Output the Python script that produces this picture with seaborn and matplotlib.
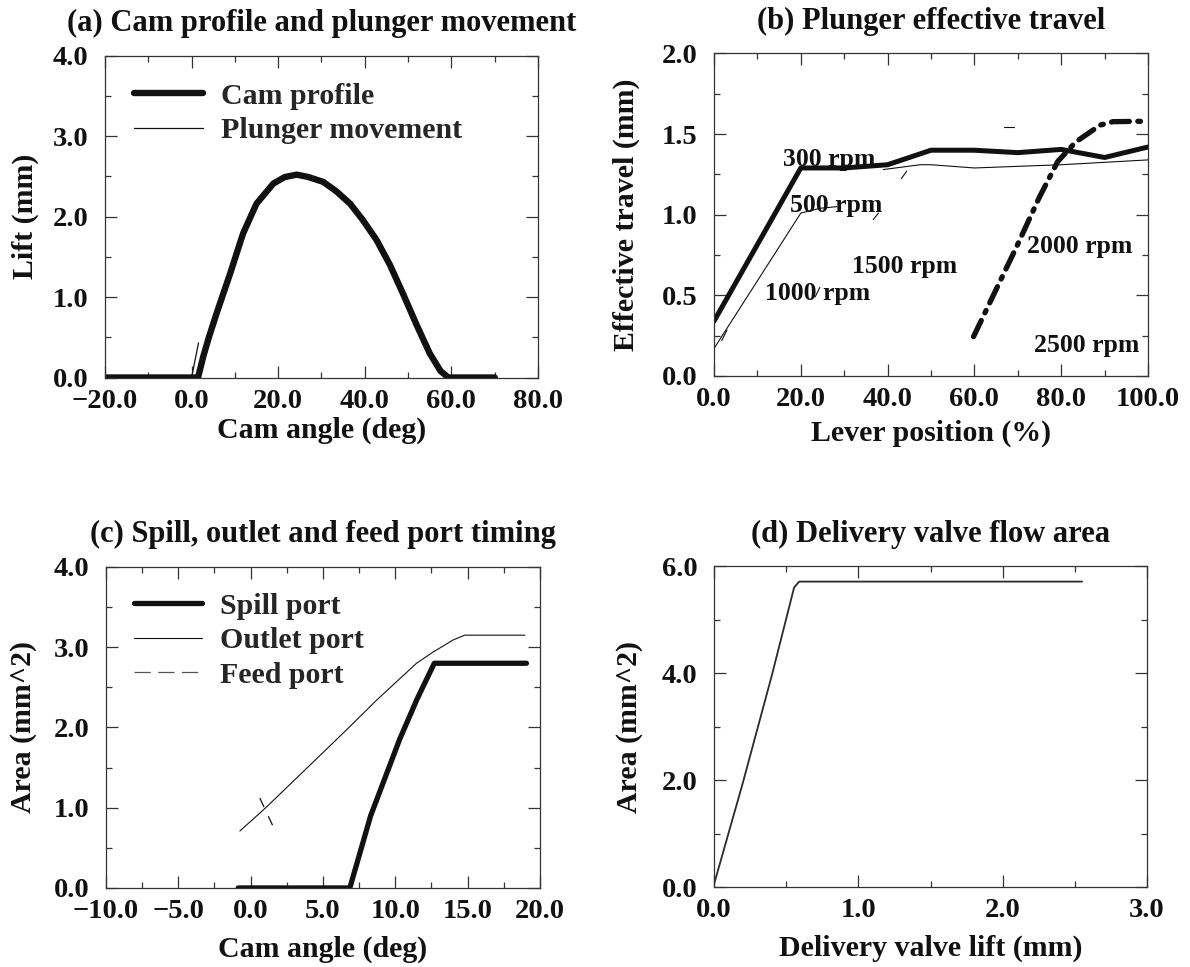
import numpy as np
import pandas as pd
import matplotlib
matplotlib.use("Agg")
import matplotlib.pyplot as plt
from matplotlib.lines import Line2D
from matplotlib.ticker import MultipleLocator, FuncFormatter
import seaborn as sns

# ---------------- data ----------------
# (a) Cam profile and plunger movement
cam_angle = [-20, 1.5, 2.7, 4.0, 5.8, 8.9, 11.9, 15.0, 18.9, 21.5, 24.3, 27.0,
             30.4, 33.5, 36.6, 39.5, 42.7, 45.8, 49.0, 52.0, 55.0, 57.5, 59.3, 70.0]
cam_lift = [0.0, 0.0, 0.26, 0.50, 0.80, 1.29, 1.79, 2.16, 2.41, 2.49, 2.52, 2.49,
            2.43, 2.31, 2.16, 1.96, 1.71, 1.40, 1.02, 0.65, 0.30, 0.08, 0.0, 0.0]
plunger_angle_1 = [-20, 0.0, 1.6]
plunger_lift_1 = [0.0, 0.0, 0.43]
plunger_angle_2 = [4.0, 5.8, 8.9, 11.9, 15.0, 18.9, 21.5, 24.3, 27.0, 30.4, 33.5,
                   36.6, 39.5, 42.7, 45.8, 49.0, 52.0, 55.0, 57.5, 59.3, 70.0]
plunger_lift_2 = [0.50, 0.80, 1.29, 1.79, 2.16, 2.41, 2.49, 2.52, 2.49, 2.43, 2.31,
                  2.16, 1.96, 1.71, 1.40, 1.02, 0.65, 0.30, 0.08, 0.0, 0.0]

# (b) Plunger effective travel
lever_300 = [0, 20, 30, 40, 50, 60, 70, 80, 90, 100]
travel_300 = [0.34, 1.29, 1.29, 1.31, 1.40, 1.40, 1.385, 1.405, 1.355, 1.42]
lever_500 = [0, 20, 24.4, 28.3]
travel_500 = [0.17, 1.01, 1.04, 1.05]
lever_1000 = [39, 47.5, 50, 60, 70, 80, 100]
travel_1000 = [1.28, 1.31, 1.31, 1.29, 1.30, 1.31, 1.34]
lever_2000 = [59.8, 69.7, 75.0, 79.2, 83.3, 89.0, 91.9, 100]
travel_2000 = [0.244, 0.80, 1.11, 1.33, 1.45, 1.556, 1.577, 1.58]
frag_lever = [[1.8, 3.0], [23.3, 24.4], [36.7, 37.9], [43.2, 44.4], [66.8, 69.2]]
frag_travel = [[0.22, 0.285], [0.49, 0.55], [0.97, 1.01], [1.225, 1.27], [1.545, 1.545]]
rpm_labels = ["300 rpm", "500 rpm", "1000 rpm", "1500 rpm", "2000 rpm", "2500 rpm"]
rpm_label_x = [15.8, 17.4, 11.7, 31.8, 72.1, 73.7]
rpm_label_y = [1.34, 1.06, 0.51, 0.68, 0.80, 0.19]

# (c) Spill, outlet and feed port timing
spill_angle = [-0.86, 6.86, 8.3, 10.3, 11.5, 12.7, 19.07]
spill_area = [0.0, 0.0, 0.9, 1.85, 2.35, 2.80, 2.80]
outlet_angle = [-0.74, 0.99, 3.87, 6.63, 8.71, 11.47, 12.62, 14.0, 14.8, 18.96]
outlet_area = [0.71, 0.99, 1.49, 1.97, 2.34, 2.80, 2.94, 3.09, 3.15, 3.15]
feed_angle = [0.64, 1.68]
feed_area = [1.12, 0.72]

# (d) Delivery valve flow area
valve_lift = [0.0, 0.2, 0.4, 0.555, 0.59, 2.55]
valve_area = [0.05, 1.95, 3.95, 5.60, 5.71, 5.71]

# ---------------- style ----------------
sns.set_theme(style="ticks")
plt.rcParams["font.family"] = ["Liberation Serif", "DejaVu Serif"]
plt.rcParams["font.weight"] = "bold"
plt.rcParams["axes.labelweight"] = "bold"
plt.rcParams["axes.titleweight"] = "bold"

INK = "#111111"
SPINE = "#333333"
TICK_FS = 20.5
LABEL_FS = 21.5
TITLE_FS = 22

fig = plt.figure(figsize=(11.9, 9.67), dpi=100)
pos = {
    "a": [0.0882, 0.6096, 0.3639, 0.333],
    "b": [0.600, 0.6112, 0.3647, 0.3335],
    "c": [0.089, 0.0817, 0.3647, 0.332],
    "d": [0.600, 0.0827, 0.3639, 0.3319],
}
axes = {k: fig.add_axes(v) for k, v in pos.items()}

fmt = FuncFormatter(lambda v, p: f"{v:.1f}".replace("-", "\u2212"))


def style_axes(ax, xlim, ylim, xmaj, xmin, ymaj, ymin, title, xlabel, ylabel,
               xlab_y, ylab_x):
    ax.set_xlim(*xlim)
    ax.set_ylim(*ylim)
    ax.xaxis.set_major_locator(MultipleLocator(xmaj))
    ax.xaxis.set_minor_locator(MultipleLocator(xmin))
    ax.yaxis.set_major_locator(MultipleLocator(ymaj))
    ax.yaxis.set_minor_locator(MultipleLocator(ymin))
    ax.xaxis.set_major_formatter(fmt)
    ax.yaxis.set_major_formatter(fmt)
    for s in ax.spines.values():
        s.set_visible(True)
        s.set_color(SPINE)
        s.set_linewidth(0.9)
    ax.tick_params(which="both", direction="in", top=True, right=True,
                   color=SPINE, width=0.9, labelsize=TICK_FS, labelcolor=INK)
    ax.tick_params(which="major", length=8.5)
    ax.tick_params(which="minor", length=4.5)
    ax.tick_params(axis="x", which="major", pad=8)
    ax.tick_params(axis="y", which="major", pad=12)
    for lab in ax.get_xticklabels() + ax.get_yticklabels():
        lab.set_fontweight("bold")
    ax.set_xlabel(xlabel, fontsize=LABEL_FS, fontweight="bold", color=INK)
    ax.set_ylabel(ylabel, fontsize=LABEL_FS, fontweight="bold", color=INK)
    ax.xaxis.label.set_verticalalignment("center")
    ax.yaxis.label.set_verticalalignment("center")
    ax.xaxis.set_label_coords(0.5, xlab_y)
    ax.yaxis.set_label_coords(ylab_x, 0.5)
    ax.set_title(title, fontsize=TITLE_FS, fontweight="bold", color=INK,
                 y=1.10, va="center", pad=0)
    ax.set_facecolor("white")


# ---------------- (a) ----------------
ax = axes["a"]
sns.lineplot(x=plunger_angle_1, y=plunger_lift_1, ax=ax, color=INK, lw=0.9,
             estimator=None, sort=False)
sns.lineplot(x=plunger_angle_2, y=plunger_lift_2, ax=ax, color=INK, lw=0.9,
             estimator=None, sort=False)
sns.lineplot(x=cam_angle, y=cam_lift, ax=ax, color=INK, lw=4.6,
             estimator=None, sort=False, solid_capstyle="round")
style_axes(ax, (-20, 80), (0, 4), 20, 10, 1, 0.5,
           "(a) Cam profile and plunger movement", "Cam angle (deg)",
           "Lift (mm)", -0.163, -0.185)
h_a = [Line2D([], [], color=INK, lw=4.6, solid_capstyle="round"),
       Line2D([], [], color=INK, lw=0.9)]
ax.legend(h_a, ["Cam profile", "Plunger movement"], loc="upper left",
          bbox_to_anchor=(0.067, 0.915), frameon=False,
          handlelength=2.3, handletextpad=0.6, labelspacing=0.25,
          borderpad=0, borderaxespad=0,
          prop={"family": ["Liberation Serif"], "weight": "bold", "size": LABEL_FS})

# ---------------- (b) ----------------
ax = axes["b"]
sns.lineplot(x=lever_300, y=travel_300, ax=ax, color=INK, lw=3.6,
             estimator=None, sort=False, solid_capstyle="round")
sns.lineplot(x=lever_500, y=travel_500, ax=ax, color=INK, lw=0.8,
             estimator=None, sort=False)
sns.lineplot(x=lever_1000, y=travel_1000, ax=ax, color=INK, lw=0.8,
             estimator=None, sort=False)
for fx, fy in zip(frag_lever, frag_travel):
    sns.lineplot(x=fx, y=fy, ax=ax, color=INK, lw=0.8, estimator=None, sort=False)
l2000 = sns.lineplot(x=lever_2000, y=travel_2000, ax=ax, color=INK, lw=3.8,
                     estimator=None, sort=False).lines[-1]
l2000.set_dashes([3.4, 1.6, 0.5, 1.6])
l2000.set_dash_capstyle("round")
for t, tx, ty in zip(rpm_labels, rpm_label_x, rpm_label_y):
    ax.text(tx, ty, t, fontsize=18.5, fontweight="bold", color=INK,
            ha="left", va="center")
style_axes(ax, (0, 100), (0, 2), 20, 10, 0.5, 0.25,
           "(b) Plunger effective travel", "Lever position (%)",
           "Effective travel (mm)", -0.177, -0.203)

# ---------------- (c) ----------------
ax = axes["c"]
sns.lineplot(x=spill_angle, y=spill_area, ax=ax, color=INK, lw=3.8,
             estimator=None, sort=False, solid_capstyle="round")
sns.lineplot(x=outlet_angle, y=outlet_area, ax=ax, color=INK, lw=0.8,
             estimator=None, sort=False)
lf = sns.lineplot(x=feed_angle, y=feed_area, ax=ax, color=INK, lw=0.9,
                  estimator=None, sort=False).lines[-1]
lf.set_dashes([8, 8])
style_axes(ax, (-10, 20), (0, 4), 5, 2.5, 1, 0.5,
           "(c) Spill, outlet and feed port timing", "Cam angle (deg)",
           "Area (mm^2)", -0.19, -0.189)
h_c = [Line2D([], [], color=INK, lw=3.8, solid_capstyle="round"),
       Line2D([], [], color=INK, lw=0.8),
       Line2D([], [], color="#555555", lw=0.9, dashes=[13, 6])]
ax.legend(h_c, ["Spill port", "Outlet port", "Feed port"], loc="upper left",
          bbox_to_anchor=(0.064, 0.92), frameon=False,
          handlelength=2.3, handletextpad=0.6, labelspacing=0.25,
          borderpad=0, borderaxespad=0,
          prop={"family": ["Liberation Serif"], "weight": "bold", "size": LABEL_FS})

# ---------------- (d) ----------------
ax = axes["d"]
sns.lineplot(x=valve_lift, y=valve_area, ax=ax, color="#2a2a2a", lw=1.3,
             estimator=None, sort=False)
style_axes(ax, (0, 3), (0, 6), 1, 0.5, 2, 1,
           "(d) Delivery valve flow area", "Delivery valve lift (mm)",
           "Area (mm^2)", -0.19, -0.194)

fig.savefig("out.png", dpi=100, facecolor="white")
